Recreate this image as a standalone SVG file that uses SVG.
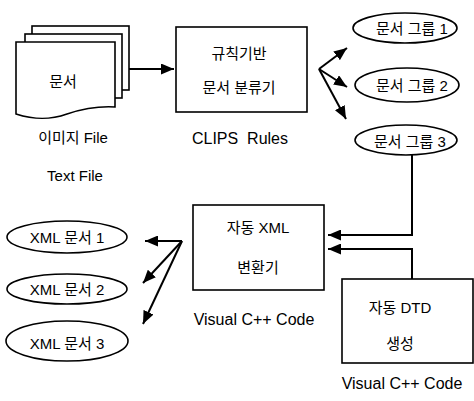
<svg xmlns="http://www.w3.org/2000/svg" width="474" height="401" viewBox="0 0 474 401">
<style>
.t{font-family:"Liberation Sans","Noto Sans CJK KR",sans-serif;font-size:15px;fill:#000;text-anchor:middle;dominant-baseline:central}
.l{font-size:16px}
.s{fill:#fff;stroke:#000;stroke-width:1.6}
.c{fill:none;stroke:#000;stroke-width:2}
</style>
<defs>
<marker id="ah" markerUnits="userSpaceOnUse" markerWidth="13" markerHeight="11" refX="13" refY="5.5" orient="auto">
<path d="M0,0 L13,5.5 L0,11 z" fill="#000"/>
</marker>
</defs>
<g id="doc">
<rect class="s" x="32" y="26" width="97" height="64"/>
<rect class="s" x="25" y="34" width="97" height="64"/>
<path class="s" d="M16,42 H115 V107 C98,106 82,109 67,114 C50,120 35,120 16,114 Z"/>
<text class="t" x="63" y="81">문서</text>
<text class="t" x="73" y="137">이미지 File</text>
<text class="t" x="75" y="175">Text File</text>
</g>
<g id="classifier">
<rect class="s" x="176" y="27" width="131" height="85"/>
<text class="t" x="239" y="53">규칙기반</text>
<text class="t" x="239" y="87">문서 분류기</text>
<text class="t l" x="240" y="138" xml:space="preserve">CLIPS  Rules</text>
</g>
<g id="group1">
<ellipse class="s" cx="405" cy="28" rx="52" ry="15"/>
<text class="t" x="412" y="28">문서 그룹 1</text>
</g>
<g id="group2">
<ellipse class="s" cx="407" cy="85" rx="52" ry="17"/>
<text class="t" x="412" y="85">문서 그룹 2</text>
</g>
<g id="group3">
<ellipse class="s" cx="406" cy="140" rx="51" ry="15"/>
<text class="t" x="410" y="141">문서 그룹 3</text>
</g>
<g id="converter">
<rect class="s" x="193" y="205" width="131" height="85"/>
<text class="t" x="258" y="227">자동 XML</text>
<text class="t" x="258" y="267">변환기</text>
<text class="t l" x="254" y="319">Visual C++ Code</text>
</g>
<g id="dtd">
<rect class="s" x="342" y="279" width="131" height="84"/>
<text class="t" x="400" y="307">자동 DTD</text>
<text class="t" x="400" y="343">생성</text>
<text class="t l" x="402" y="383">Visual C++ Code</text>
</g>
<g id="xml1">
<ellipse class="s" cx="67" cy="237" rx="60" ry="16"/>
<text class="t" x="67" y="237">XML 문서 1</text>
</g>
<g id="xml2">
<ellipse class="s" cx="67" cy="289" rx="60" ry="15"/>
<text class="t" x="67" y="289">XML 문서 2</text>
</g>
<g id="xml3">
<ellipse class="s" cx="67" cy="341" rx="61" ry="20"/>
<text class="t" x="67" y="343">XML 문서 3</text>
</g>
<g id="connectors">
<line class="c" x1="129" y1="69" x2="174" y2="69" marker-end="url(#ah)"/>
<line class="c" x1="319" y1="69" x2="347" y2="48" marker-end="url(#ah)"/>
<line class="c" x1="319" y1="69" x2="347" y2="87" marker-end="url(#ah)"/>
<line class="c" x1="319" y1="69" x2="346" y2="119" marker-end="url(#ah)"/>
<polyline class="c" points="412,155 412,235 328,235" marker-end="url(#ah)"/>
<polyline class="c" points="412,279 412,249 328,249" marker-end="url(#ah)"/>
<line class="c" x1="182" y1="241" x2="145" y2="241" marker-end="url(#ah)"/>
<line class="c" x1="182" y1="241" x2="143" y2="283" marker-end="url(#ah)"/>
<line class="c" x1="182" y1="241" x2="143" y2="324" marker-end="url(#ah)"/>
</g>
</svg>
